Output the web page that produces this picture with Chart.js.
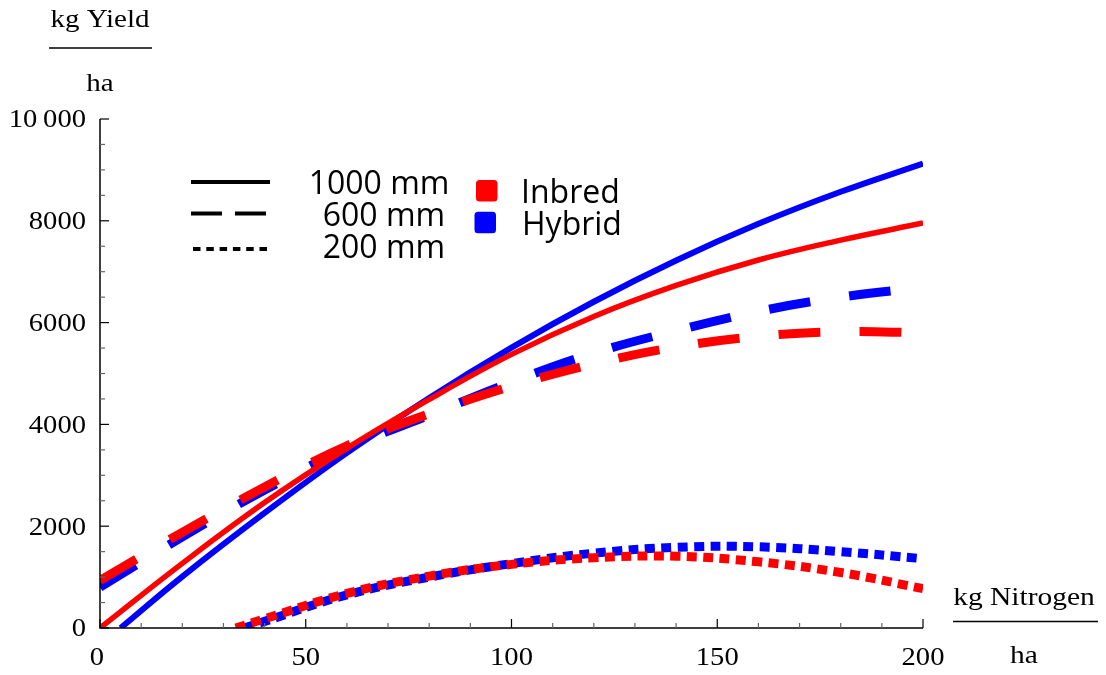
<!DOCTYPE html>
<html>
<head>
<meta charset="utf-8">
<script src="https://cdn.jsdelivr.net/npm/chart.js@4.4.0/dist/chart.umd.min.js"></script>
<style>
html,body{margin:0;padding:0;background:#fff;}
#wrap{width:1106px;height:675px;position:relative;}
canvas{display:block;}
</style>
</head>
<body>
<div id="wrap"><canvas id="c" width="1106" height="675"></canvas></div>
<script>
// ---------- data ----------
const nInbred1000 = [0, 20, 40, 60, 80, 100, 120, 140, 160, 180, 200];
const yInbred1000 = [0, 1270, 2465, 3530, 4490, 5375, 6120, 6730, 7230, 7620, 7956];

const nHybrid1000 = [5, 20, 40, 60, 80, 100, 120, 140, 160, 180, 200];
const yHybrid1000 = [0, 1010, 2260, 3440, 4520, 5510, 6410, 7220, 7940, 8570, 9124];

const nInbred600 = [0, 20, 40, 60, 80, 100, 120, 140, 160, 180, 200];
const yInbred600 = [935, 1880, 2770, 3580, 4210, 4750, 5190, 5520, 5730, 5820, 5800];

const nHybrid600 = [0, 20, 40, 60, 80, 100, 120, 140, 160, 180, 200];
const yHybrid600 = [800, 1790, 2710, 3530, 4180, 4830, 5400, 5840, 6220, 6500, 6690];

const nInbred200 = [33, 40, 60, 80, 100, 120, 140, 160, 180, 200];
const yInbred200 = [0, 180, 680, 1020, 1250, 1380, 1410, 1300, 1090, 772];

const nHybrid200 = [35, 40, 60, 80, 100, 120, 140, 160, 180, 200];
const yHybrid200 = [0, 130, 650, 1000, 1265, 1470, 1585, 1595, 1500, 1362];

const xMajorTicks = [0, 50, 100, 150, 200];
const xTickLabels = ['0', '50', '100', '150', '200'];
const yMajorTicks = [0, 2000, 4000, 6000, 8000, 10000];
const yTickLabels = ['0', '2000', '4000', '6000', '8000', '10\u2009000'];

const rainfallLabels = ['1000 mm', '600 mm', '200 mm'];
const varietyLabels = ['Inbred', 'Hybrid'];

const RED = '#ff0000', BLUE = '#0000ff';

function pts(xs, ys) { return xs.map((v, i) => ({x: v, y: ys[i]})); }

function stretchedText(ctx, txt, x, y, align, sx) {
  ctx.save();
  ctx.translate(x, y);
  ctx.scale(sx, 1);
  ctx.textAlign = align;
  ctx.fillText(txt, 0, 0);
  ctx.restore();
}

const decor = {
  id: 'decor',
  afterDraw(chart) {
    const {ctx, scales: {x, y}} = chart;
    const x0 = x.getPixelForValue(0), y0 = y.getPixelForValue(0);
    const xEnd = x.getPixelForValue(200), yTop = y.getPixelForValue(10000);
    ctx.save();
    // axis lines
    ctx.strokeStyle = '#000';
    ctx.lineWidth = 1.5;
    ctx.beginPath();
    ctx.moveTo(x0, yTop); ctx.lineTo(x0, y0); ctx.lineTo(xEnd, y0);
    ctx.stroke();
    // ticks (minor every 10 on x, every 500 on y)
    ctx.lineWidth = 1.2;
    for (let v = 0; v <= 200; v += 10) {
      const major = xMajorTicks.includes(v);
      const px = x.getPixelForValue(v);
      ctx.strokeStyle = major ? '#000' : '#666';
      ctx.beginPath(); ctx.moveTo(px, y0); ctx.lineTo(px, y0 - (major ? 9 : 5)); ctx.stroke();
    }
    for (let v = 0; v <= 10000; v += 500) {
      const major = yMajorTicks.includes(v);
      const py = y.getPixelForValue(v);
      ctx.strokeStyle = major ? '#000' : '#666';
      ctx.beginPath(); ctx.moveTo(x0, py); ctx.lineTo(x0 + (major ? 9 : 5), py); ctx.stroke();
    }
    // tick labels
    ctx.fillStyle = '#000';
    ctx.font = '26px "Liberation Serif", "Times New Roman", serif';
    ctx.textBaseline = 'middle';
    xMajorTicks.forEach((v, i) => {
      stretchedText(ctx, xTickLabels[i], x.getPixelForValue(v) - (v === 0 ? 3 : 0), 658, 'center', 1.1);
    });
    yMajorTicks.forEach((v, i) => {
      stretchedText(ctx, yTickLabels[i], 86, y.getPixelForValue(v) + 1.5, 'right', 1.1);
    });
    // axis titles
    ctx.font = '25px "Liberation Serif", "Times New Roman", serif';
    ctx.textBaseline = 'alphabetic';
    stretchedText(ctx, 'kg Yield', 100, 27, 'center', 1.16);
    stretchedText(ctx, 'ha', 100, 91, 'center', 1.16);
    stretchedText(ctx, 'kg Nitrogen', 1024, 605, 'center', 1.18);
    stretchedText(ctx, 'ha', 1024, 663, 'center', 1.18);
    ctx.strokeStyle = '#000';
    ctx.lineWidth = 1.5;
    ctx.beginPath(); ctx.moveTo(49, 48); ctx.lineTo(152, 48); ctx.stroke();
    ctx.beginPath(); ctx.moveTo(953, 621.5); ctx.lineTo(1098, 621.5); ctx.stroke();

    // legend: line styles
    ctx.lineWidth = 4;
    ctx.lineCap = 'butt';
    ctx.setLineDash([]);
    ctx.beginPath(); ctx.moveTo(191, 182); ctx.lineTo(270, 182); ctx.stroke();
    ctx.setLineDash([31, 13]);
    ctx.beginPath(); ctx.moveTo(191, 213.5); ctx.lineTo(267, 213.5); ctx.stroke();
    ctx.setLineDash([7.5, 5.8]);
    ctx.beginPath(); ctx.moveTo(193, 249); ctx.lineTo(269, 249); ctx.stroke();
    ctx.setLineDash([]);
    // legend: rainfall texts
    ctx.font = '32px "Open Sans", "Noto Sans", sans-serif';
    ctx.textBaseline = 'middle';
    ctx.textAlign = 'center';
    ctx.fillText(rainfallLabels[0], 379, 185);
    ctx.fillText(rainfallLabels[1], 384, 217);
    ctx.fillText(rainfallLabels[2], 384, 249);
    // legend: colour swatches
    function rr(x, y, w, h, r, c) {
      ctx.fillStyle = c;
      ctx.beginPath();
      ctx.moveTo(x + r, y); ctx.lineTo(x + w - r, y); ctx.quadraticCurveTo(x + w, y, x + w, y + r);
      ctx.lineTo(x + w, y + h - r); ctx.quadraticCurveTo(x + w, y + h, x + w - r, y + h);
      ctx.lineTo(x + r, y + h); ctx.quadraticCurveTo(x, y + h, x, y + h - r);
      ctx.lineTo(x, y + r); ctx.quadraticCurveTo(x, y, x + r, y);
      ctx.fill();
    }
    rr(476, 180, 21.5, 21.5, 3.5, RED);
    rr(474.5, 211.8, 21.5, 21.5, 3.5, BLUE);
    ctx.fillStyle = '#000';
    ctx.textAlign = 'left';
    ctx.fillText(varietyLabels[0], 521, 194);
    ctx.fillText(varietyLabels[1], 522, 226);
    ctx.restore();
  }
};

function makeChart() {
  const common = {fill: false, pointRadius: 0, tension: 0.4, borderJoinStyle: 'round'};
  new Chart(document.getElementById('c'), {
    type: 'line',
    data: {
      datasets: [
        Object.assign({label: 'Inbred 1000 mm', data: pts(nInbred1000, yInbred1000), borderColor: RED, borderWidth: 5.5, borderCapStyle: 'butt', order: 1}, common),
        Object.assign({label: 'Inbred 600 mm', data: pts(nInbred600, yInbred600), borderColor: RED, borderWidth: 9, borderDash: [42, 39], borderCapStyle: 'butt', order: 1}, common),
        Object.assign({label: 'Inbred 200 mm', data: pts(nInbred200, yInbred200), borderColor: RED, borderWidth: 9, borderDash: [10, 6.4], borderCapStyle: 'butt', order: 1}, common),
        Object.assign({label: 'Hybrid 1000 mm', data: pts(nHybrid1000, yHybrid1000), borderColor: BLUE, borderWidth: 6, borderCapStyle: 'butt', order: 2}, common),
        Object.assign({label: 'Hybrid 600 mm', data: pts(nHybrid600, yHybrid600), borderColor: BLUE, borderWidth: 9, borderDash: [42, 39], borderCapStyle: 'butt', order: 2}, common),
        Object.assign({label: 'Hybrid 200 mm', data: pts(nHybrid200, yHybrid200), borderColor: BLUE, borderWidth: 9, borderDash: [10, 6.4], borderCapStyle: 'butt', order: 2}, common)
      ]
    },
    options: {
      responsive: false,
      animation: false,
      devicePixelRatio: 1,
      layout: {padding: {left: 100, right: 183, top: 119, bottom: 47}},
      plugins: {legend: {display: false}, tooltip: {enabled: false}},
      scales: {
        x: {type: 'linear', min: 0, max: 200, display: false},
        y: {type: 'linear', min: 0, max: 10000, display: false}
      }
    },
    plugins: [decor]
  });
}

Promise.all([
  document.fonts.load('32px "Open Sans"'),
  document.fonts.load('26px "Liberation Serif"')
]).then(makeChart, makeChart);
</script>
</body>
</html>
